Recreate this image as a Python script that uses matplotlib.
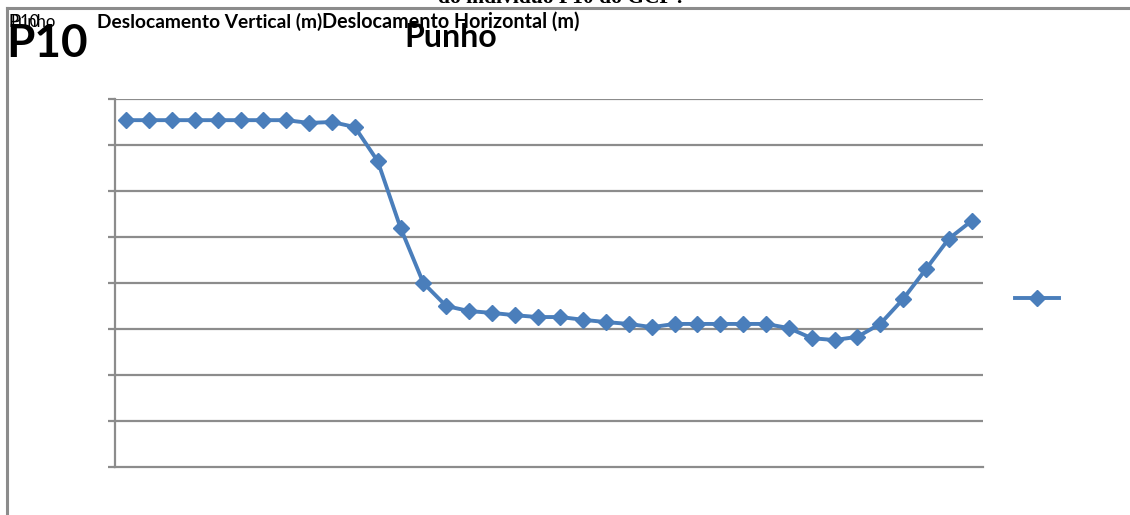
import matplotlib
matplotlib.use("Agg")
import matplotlib.pyplot as plt
from matplotlib.lines import Line2D

# ---- data (gridline units, 8 intervals) ----
frames = list(range(1, 39))
punho = [7.54, 7.54, 7.54, 7.54, 7.54, 7.54, 7.54, 7.54, 7.48, 7.50,
         7.39, 6.65, 5.20, 4.00, 3.50, 3.39, 3.35, 3.30, 3.26, 3.26,
         3.20, 3.15, 3.11, 3.04, 3.11, 3.11, 3.11, 3.11, 3.11, 3.02,
         2.80, 2.76, 2.83, 3.11, 3.65, 4.30, 4.96, 5.35]
grid_levels = [0, 1, 2, 3, 4, 5, 6, 7, 8]

title_cut = "do indivíduo P10 do GCP ."
label_small = "Punho"
label_vert = "Deslocamento Vertical (m)"
label_horiz = "Deslocamento Horizontal (m)"
title_p10 = "P10"
title_punho = "Punho"

W, H = 1130, 515
fig = plt.figure(figsize=(W / 100, H / 100), dpi=100)
fig.patch.set_facecolor("white")

def fx(px):
    return px / W

def fy(py):
    return 1 - py / H

GRID = "#8c8c8c"
BLUE = "#4a7ebb"

# plot area
ax = fig.add_axes([fx(115), fy(467), fx(983) - fx(115), fy(99) - fy(467)])
ax.set_xlim(0.5, 38.5)
ax.set_ylim(0, 8)
ax.set_yticks(grid_levels)
ax.set_yticklabels([])
ax.set_xticks([])
for lvl in grid_levels[1:]:
    ax.axhline(lvl, color=GRID, lw=1.6, zorder=1)
for s in ["top", "right"]:
    ax.spines[s].set_visible(False)
for s in ["left", "bottom"]:
    ax.spines[s].set_color(GRID)
    ax.spines[s].set_linewidth(1.6)
ax.tick_params(axis="y", length=5, width=1.6, color=GRID, direction="out")
ax.patch.set_alpha(0)

line, = ax.plot(frames, punho, color=BLUE, lw=2.8, marker="D", markersize=8.5,
                markerfacecolor=BLUE, markeredgecolor=BLUE, zorder=3,
                clip_on=False, label=" ")

# legend (no text)
leg_handle = Line2D([0], [0], color=BLUE, lw=2.8, marker="D", markersize=8.5,
                    markerfacecolor=BLUE, markeredgecolor=BLUE)
fig.legend([leg_handle], [""], loc="center left",
           bbox_to_anchor=(fx(1008), fy(299)), frameon=False,
           handlelength=3.2, handletextpad=0, borderpad=0, numpoints=1)

# outer frame (partial, as in the reference)
fig.add_artist(Line2D([fx(7), fx(1130)], [fy(8), fy(8)], color=GRID, lw=2.2,
                      transform=fig.transFigure))
fig.add_artist(Line2D([fx(7), fx(7)], [fy(8), fy(515)], color=GRID, lw=2.2,
                      transform=fig.transFigure))

# texts
fig.text(fx(438), fy(3), title_cut, family="Liberation Serif", weight="bold",
         fontsize=15.5, ha="left", va="baseline", color="black")
fig.text(fx(8), fy(27), label_small, family="Lato", fontsize=12,
         ha="left", va="baseline", color="black")
fig.text(fx(10), fy(27), "P10", family="Lato", fontsize=12,
         ha="left", va="baseline", color="black")
fig.text(fx(97), fy(28), label_vert, family="Lato", weight="bold",
         fontsize=13.8, ha="left", va="baseline", color="black")
fig.text(fx(322), fy(28), label_horiz, family="Lato", weight="bold",
         fontsize=14.2, ha="left", va="baseline", color="black")
fig.text(fx(6), fy(57), title_p10, family="Lato", weight="bold",
         fontsize=33, ha="left", va="baseline", color="black")
fig.text(fx(404), fy(47), title_punho, family="Lato", weight="bold",
         fontsize=23, ha="left", va="baseline", color="black")

fig.savefig("out.png", dpi=100, facecolor="white")
